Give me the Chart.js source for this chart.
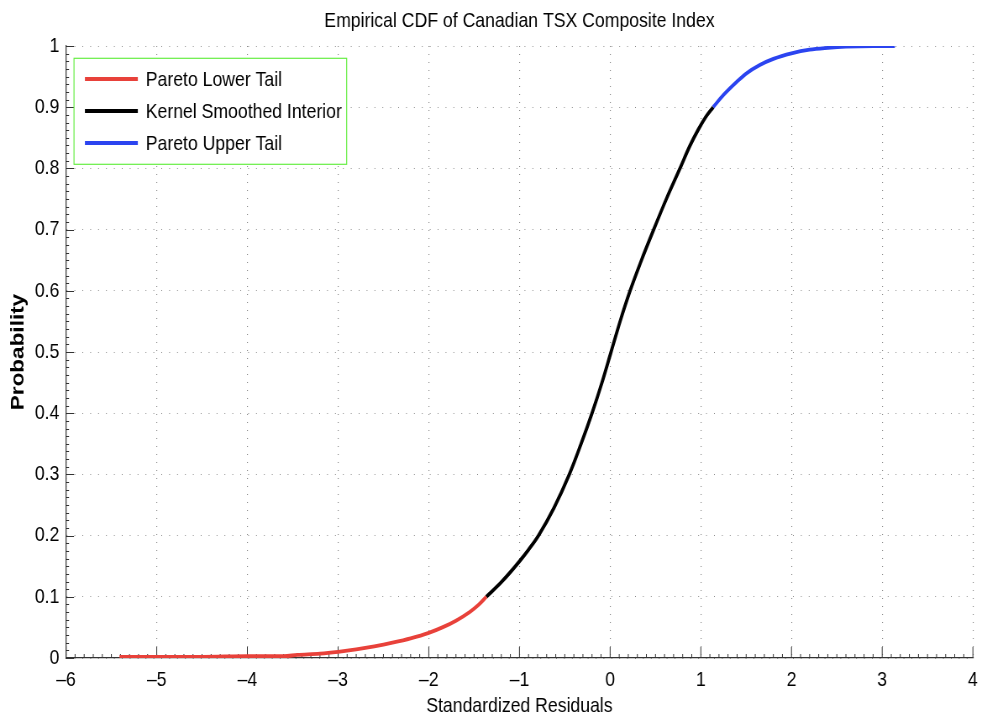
<!DOCTYPE html>
<html>
<head>
<meta charset="utf-8">
<script src="https://cdn.jsdelivr.net/npm/chart.js@4.4.1/dist/chart.umd.min.js"></script>
<style>
  html, body { margin: 0; padding: 0; background: #ffffff; overflow: hidden; }
  #wrap { width: 986px; height: 722px; overflow: hidden; }
  /* the figure is laid out wider and squeezed horizontally to get its narrow lettering */
  #cdf { transform: scaleX(0.84); transform-origin: 0 0; display: block; }
</style>
</head>
<body>
<div id="wrap"><canvas id="cdf" width="1174" height="722"></canvas></div>
<script>
// Empirical CDF pieces: Pareto lower tail, kernel-smoothed interior, Pareto upper tail
const lowerTailX = [-5.41, -5.0, -4.5, -4.0, -3.6, -3.45, -3.2, -3.0, -2.8, -2.6, -2.4, -2.2, -2.0, -1.85, -1.7, -1.55, -1.45, -1.365];
const lowerTailY = [0.002, 0.002, 0.002, 0.003, 0.003, 0.005, 0.007, 0.010, 0.014, 0.019, 0.025, 0.032, 0.041, 0.050, 0.061, 0.075, 0.087, 0.100];

const interiorX = [-1.365, -1.2, -1.0, -0.9, -0.79, -0.62, -0.45, -0.32, -0.2, -0.09, 0.01, 0.11, 0.22, 0.34, 0.48, 0.62, 0.77, 0.88, 0.97, 1.05, 1.136];
const interiorY = [0.100, 0.124, 0.158, 0.177, 0.200, 0.245, 0.300, 0.350, 0.400, 0.450, 0.500, 0.550, 0.600, 0.648, 0.700, 0.750, 0.800, 0.837, 0.863, 0.883, 0.900];

const upperTailX = [1.136, 1.25, 1.4, 1.5, 1.65, 1.8, 2.0, 2.2, 2.4, 2.6, 2.9, 3.14];
const upperTailY = [0.900, 0.920, 0.942, 0.955, 0.969, 0.979, 0.988, 0.994, 0.997, 0.999, 1.000, 1.000];

const seriesNames = ['Pareto Lower Tail', 'Kernel Smoothed Interior', 'Pareto Upper Tail'];
const xTickLabels = ['\u20136', '\u20135', '\u20134', '\u20133', '\u20132', '\u20131', '0', '1', '2', '3', '4'];
const yTickLabels = ['0', '0.1', '0.2', '0.3', '0.4', '0.5', '0.6', '0.7', '0.8', '0.9', '1'];

const chartTitle = 'Empirical CDF of Canadian TSX Composite Index';
const xAxisTitle = 'Standardized Residuals';
const yAxisTitle = 'Probability';

const FONT = '"Liberation Sans", Arial, Helvetica, sans-serif';
const AXIS_COLOR = '#333333';

const toPoints = (xs, ys) => xs.map((x, i) => ({ x: x, y: ys[i] }));

// Inward-pointing major and minor tick marks along the left and bottom axes
const axisTicks = {
  id: 'axisTicks',
  beforeDatasetsDraw(chart) {
    const { ctx, chartArea: a, scales: { x, y } } = chart;
    ctx.save();
    ctx.strokeStyle = AXIS_COLOR;
    ctx.lineWidth = 1;
    ctx.beginPath();
    const xSteps = Math.round((x.max - x.min) * 10);
    for (let i = 0; i <= xSteps; i++) {
      const px = x.getPixelForValue(x.min + i / 10);
      const len = i % 10 === 0 ? 11 : 4;
      ctx.moveTo(px, a.bottom);
      ctx.lineTo(px, a.bottom - len);
    }
    const ySteps = Math.round((y.max - y.min) * 80);
    for (let i = 0; i <= ySteps; i++) {
      const py = Math.round(y.getPixelForValue(y.min + i / 80)) + 0.5;
      const len = i % 8 === 0 ? 9.5 : 3.6;
      ctx.moveTo(a.left, py);
      ctx.lineTo(a.left + len, py);
    }
    ctx.stroke();
    ctx.restore();
  }
};

// Boxed legend in the upper-left corner of the plot area
const boxedLegend = {
  id: 'boxedLegend',
  afterDraw(chart) {
    const { ctx, chartArea: a } = chart;
    const left = a.left + 9.5, top = a.top + 12.3, w = 324.6, h = 106;
    ctx.save();
    ctx.fillStyle = '#ffffff';
    ctx.fillRect(left, top, w, h);
    ctx.strokeStyle = '#66ee44';
    ctx.lineWidth = 1.2;
    ctx.strokeRect(left, top, w, h);
    ctx.font = '21px ' + FONT;
    ctx.textBaseline = 'middle';
    ctx.fillStyle = '#000000';
    chart.data.datasets.forEach((ds, i) => {
      const cy = top + 20.7 + i * 32;
      ctx.strokeStyle = ds.borderColor;
      ctx.lineWidth = 4;
      ctx.beginPath();
      ctx.moveTo(left + 13, cy);
      ctx.lineTo(left + 76, cy);
      ctx.stroke();
      ctx.fillText(ds.label, left + 85.4, cy + 1);
    });
    ctx.restore();
  }
};

const lineStyle = { showLine: true, pointRadius: 0, pointHoverRadius: 0, borderWidth: 3.8, fill: false, cubicInterpolationMode: 'monotone', borderJoinStyle: 'round' };

new Chart(document.getElementById('cdf'), {
  type: 'scatter',
  data: {
    datasets: [
      Object.assign({ label: seriesNames[0], data: toPoints(lowerTailX, lowerTailY), borderColor: '#e8413a', backgroundColor: '#e8413a' }, lineStyle),
      Object.assign({ label: seriesNames[1], data: toPoints(interiorX, interiorY), borderColor: '#000000', backgroundColor: '#000000' }, lineStyle),
      Object.assign({ label: seriesNames[2], data: toPoints(upperTailX, upperTailY), borderColor: '#2b44f0', backgroundColor: '#2b44f0' }, lineStyle)
    ]
  },
  options: {
    responsive: false,
    animation: false,
    devicePixelRatio: 1,
    layout: { padding: { left: 0, right: 10.9, top: 0, bottom: 0 } },
    plugins: {
      legend: { display: false },
      tooltip: { enabled: false },
      title: {
        display: true,
        fullSize: false,
        text: chartTitle,
        color: '#000000',
        font: { family: FONT, size: 21, weight: 'normal' },
        padding: { top: 9, bottom: 11.8 }
      }
    },
    scales: {
      x: {
        type: 'linear',
        position: 'bottom',
        min: -6,
        max: 4,
        afterFit(scale) { scale.height = 64; },
        ticks: {
          stepSize: 1,
          color: '#000000',
          font: { family: FONT, size: 21 },
          padding: 10,
          maxRotation: 0,
          callback: (v, i) => xTickLabels[i]
        },
        grid: { color: '#8a8a8a', lineWidth: 1.15, drawTicks: false },
        border: { display: true, color: AXIS_COLOR, width: 1.2, dash: [1, 7] },
        title: {
          display: true,
          text: xAxisTitle,
          color: '#000000',
          font: { family: FONT, size: 21 },
          padding: { top: 0, bottom: 3 }
        }
      },
      y: {
        type: 'linear',
        position: 'left',
        min: 0,
        max: 1,
        afterFit(scale) { scale.width = 78.6; },
        ticks: {
          stepSize: 0.1,
          color: '#000000',
          font: { family: FONT, size: 21 },
          padding: 8,
          callback: (v, i) => yTickLabels[i]
        },
        grid: { color: '#8a8a8a', lineWidth: 1, drawTicks: false },
        border: { display: true, color: AXIS_COLOR, width: 1.2, dash: [1, 8.4] },
        title: {
          display: true,
          text: yAxisTitle,
          color: '#000000',
          font: { family: FONT, size: 22.5, weight: 'bold' },
          padding: { top: 8, bottom: 0 }
        }
      }
    }
  },
  plugins: [axisTicks, boxedLegend]
});
</script>
</body>
</html>
